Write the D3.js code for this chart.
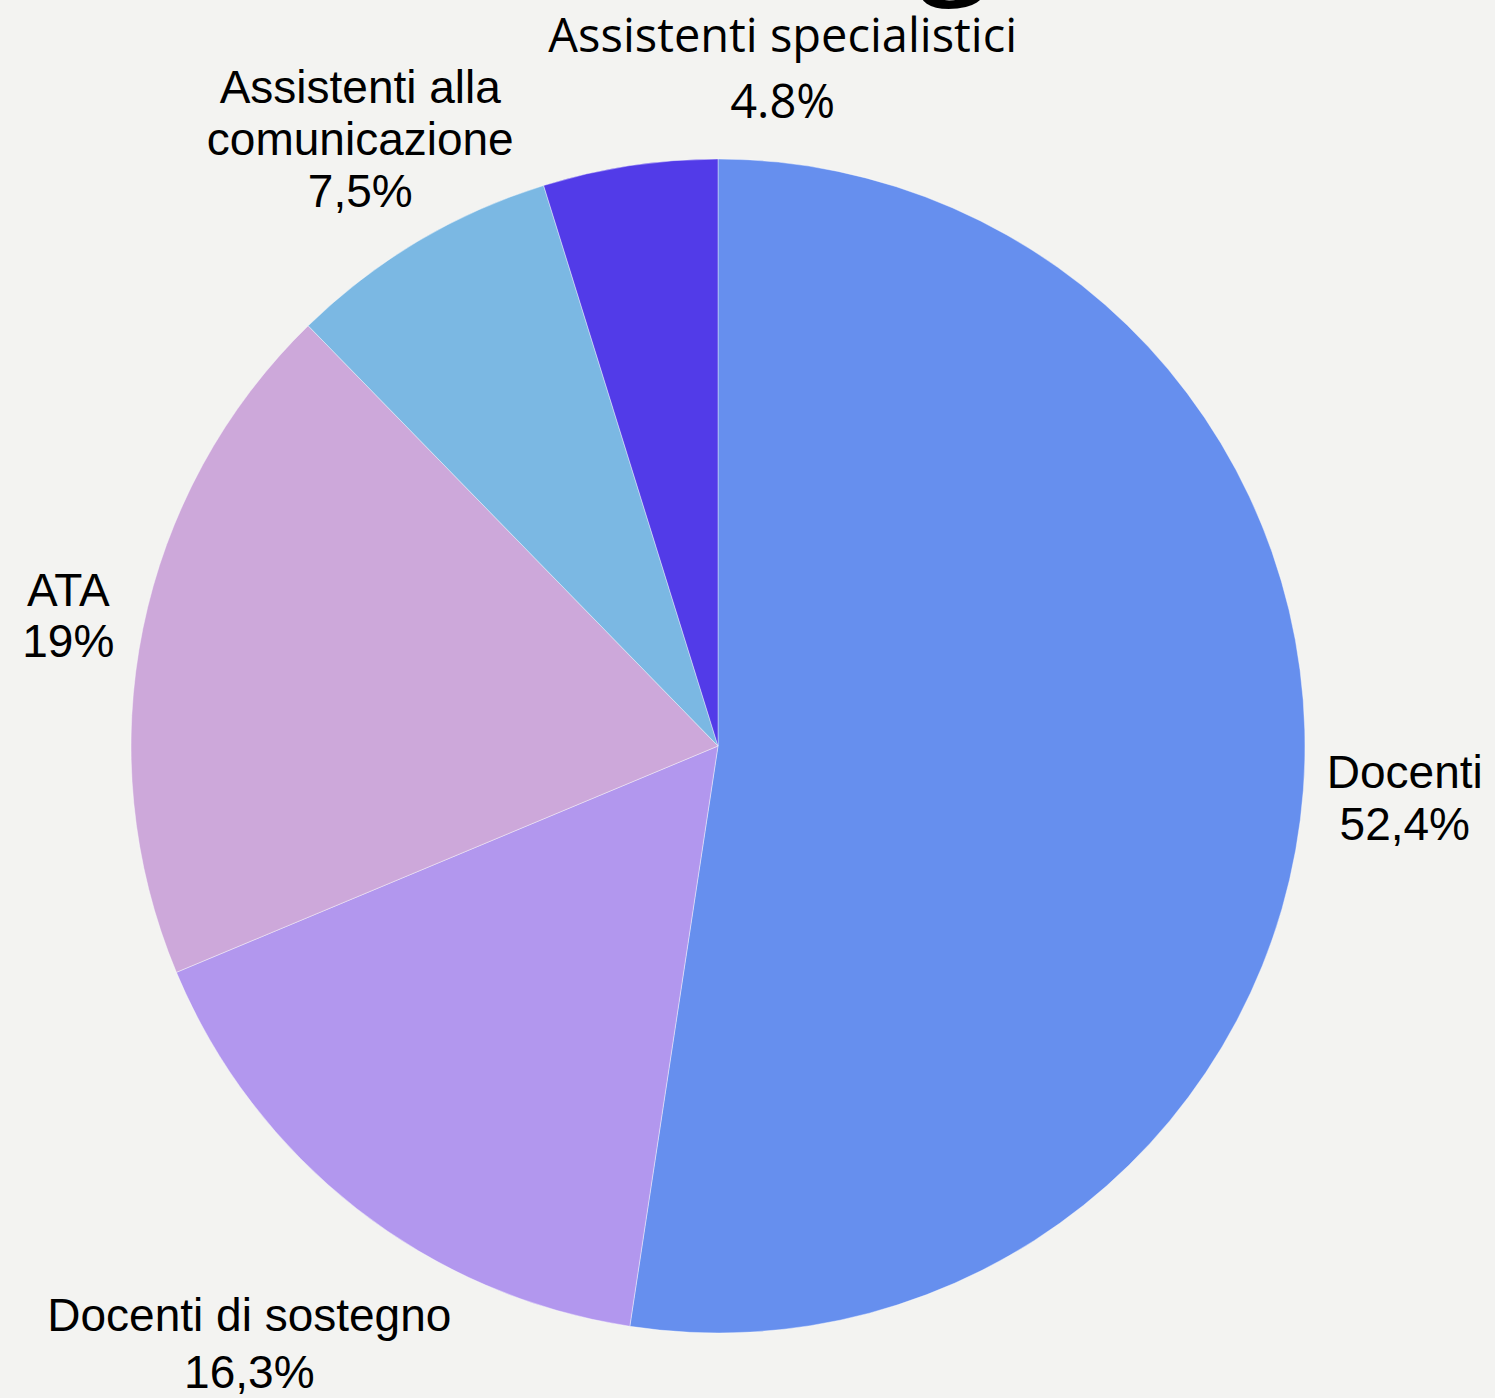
<!DOCTYPE html>
<html><head><meta charset="utf-8">
<script src="https://cdn.jsdelivr.net/npm/d3@7"></script>
<style>
html,body{margin:0;padding:0;background:#f3f3f1;}
svg{display:block;}
</style></head>
<body>
<svg id="c" width="1495" height="1398"></svg>
<script>
const categories = ["Docenti","Docenti di sostegno","ATA","Assistenti alla comunicazione","Assistenti specialistici"];
const values = [52.4, 16.3, 19, 7.5, 4.8];
const valueLabels = ["52,4%","16,3%","19%","7,5%","4.8%"];
const colors = ["#668fee","#b297ee","#cda8da","#7bb8e3","#523be8"];
const labelLines = [["Docenti"],["Docenti di sostegno"],["ATA"],["Assistenti alla","comunicazione"],["Assistenti specialistici"]];

const W = 1495, H = 1398;
const cx = 718, cy = 746, R = 587;
// label layout: distance from centre and angular nudge (degrees)
const labelDist = [690, 772, 660, 695, 668];
const labelNudge = [1.2, -0.6, -1.4, -0.2, 14.2];
const labelFont = ["Liberation Sans, Arial, sans-serif","Liberation Sans, Arial, sans-serif","Liberation Sans, Arial, sans-serif","Liberation Sans, Arial, sans-serif","Open Sans, sans-serif"];
const labelSize = [46,46,46,46,47];
const lineH = [52,57,51,52,66];
const labelShiftY = [-14,-16,-15,-11,-13];

const svg = d3.select("#c");
svg.append("rect").attr("width",W).attr("height",H).attr("fill","#f3f3f1");

// cropped title glyph at the top
svg.append("text").attr("x",917).attr("y",-23)
  .attr("font-family","Open Sans, sans-serif").attr("font-size",135).attr("fill","#000").text("g");

const data = categories.map((c,i)=>({name:c, value:values[i], i}));
const pie = d3.pie().value(d=>d.value).sort(null);
const arc = d3.arc().innerRadius(0).outerRadius(R);
const arcs = pie(data);

const g = svg.append("g").attr("transform",`translate(${cx},${cy})`);
g.selectAll("path").data(arcs).join("path")
  .attr("d",arc).attr("fill",d=>colors[d.data.i])
  .attr("stroke","rgba(255,255,255,0.5)").attr("stroke-width",0.8);

arcs.forEach(a=>{
  const i = a.data.i;
  const mid = (a.startAngle + a.endAngle)/2 + labelNudge[i]*Math.PI/180;
  const x = Math.sin(mid)*labelDist[i];
  const y = -Math.cos(mid)*labelDist[i] + labelShiftY[i];
  const lines = labelLines[i].concat([valueLabels[i]]);
  const n = lines.length;
  const t = g.append("text").attr("text-anchor","middle")
    .attr("font-family",labelFont[i]).attr("font-size",labelSize[i]).attr("fill","#000");
  lines.forEach((ln,k)=>{
    t.append("tspan").attr("x",x)
     .attr("y", y + (k - (n-1)/2)*lineH[i] + labelSize[i]*0.35)
     .text(ln);
  });
});
</script>
</body></html>
